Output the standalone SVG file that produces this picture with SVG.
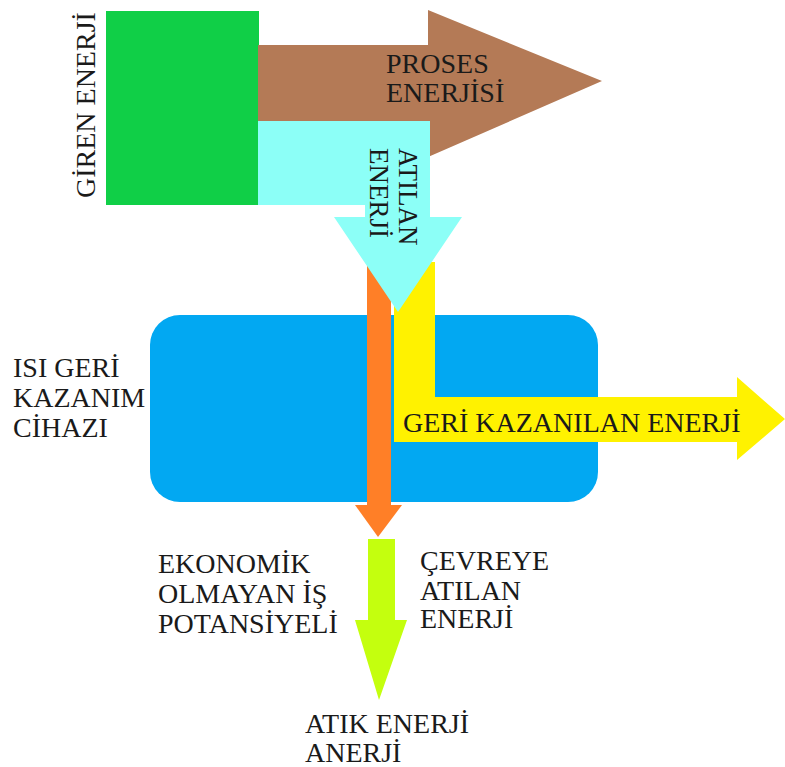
<svg xmlns="http://www.w3.org/2000/svg" width="785" height="767" viewBox="0 0 785 767">
  <style>
    .lbl { font-family: "Liberation Serif", "Times New Roman", serif; font-size: 28px; fill: #1a1a1a; }
    .sm { font-size: 27px; }
  </style>
  <rect width="785" height="767" fill="#ffffff"/>

  <!-- heat recovery device -->
  <g id="device">
    <rect x="150" y="315" width="448" height="187" rx="30" ry="30" fill="#02A8F2"/>
    <text class="lbl" x="13" y="377">ISI GERİ</text>
    <text class="lbl" x="13" y="407">KAZANIM</text>
    <text class="lbl" x="13" y="437">CİHAZI</text>
  </g>

  <!-- input energy block -->
  <g id="input">
    <rect x="106" y="11" width="153" height="194" fill="#10CF47"/>
    <text class="lbl" transform="translate(95,198) rotate(-90)">GİREN ENERJİ</text>
  </g>

  <g id="connectors">
    <!-- process energy -->
    <g id="process">
      <polygon points="258,45 428,45 428,10 602,81 428,157 428,121 258,121" fill="#B47A56"/>
      <text class="lbl" x="386" y="73">PROSES</text>
      <text class="lbl" x="386" y="102">ENERJİSİ</text>
    </g>

    <!-- waste heat streams through the device -->
    <g id="loss-stream">
      <rect x="367" y="262" width="24" height="244" fill="#FF7F27"/>
      <polygon points="355,505 402,505 378,537" fill="#FF7F27"/>
    </g>
    <g id="recovered">
      <polygon points="394,262 435,262 435,397 737,397 737,377 785,419 737,460 737,442 394,442" fill="#FFF200"/>
      <text class="lbl" x="403" y="432">GERİ KAZANILAN ENERJİ</text>
    </g>

    <!-- discharged energy -->
    <g id="discharged">
      <polygon points="258,121 430,121 430,217 462,217 398,312 334,217 365,217 365,205 258,205" fill="#8CFFF7"/>
      <text class="lbl sm" transform="translate(399,148) rotate(90)">ATILAN</text>
      <text class="lbl sm" transform="translate(370,148) rotate(90)">ENERJİ</text>
    </g>

    <!-- waste energy -->
    <g id="waste">
      <polygon points="368,539 395,539 395,620 407,620 379,700 355,620 368,620" fill="#C4FF0E"/>
    </g>
  </g>

  <g id="labels">
    <text class="lbl" x="158" y="573">EKONOMİK</text>
    <text class="lbl" x="158" y="603">OLMAYAN İŞ</text>
    <text class="lbl" x="158" y="633">POTANSİYELİ</text>
    <text class="lbl" x="420" y="570">ÇEVREYE</text>
    <text class="lbl" x="420" y="600">ATILAN</text>
    <text class="lbl" x="420" y="628">ENERJİ</text>
    <text class="lbl" x="305" y="733">ATIK ENERJİ</text>
    <text class="lbl" x="305" y="762">ANERJİ</text>
  </g>
</svg>
